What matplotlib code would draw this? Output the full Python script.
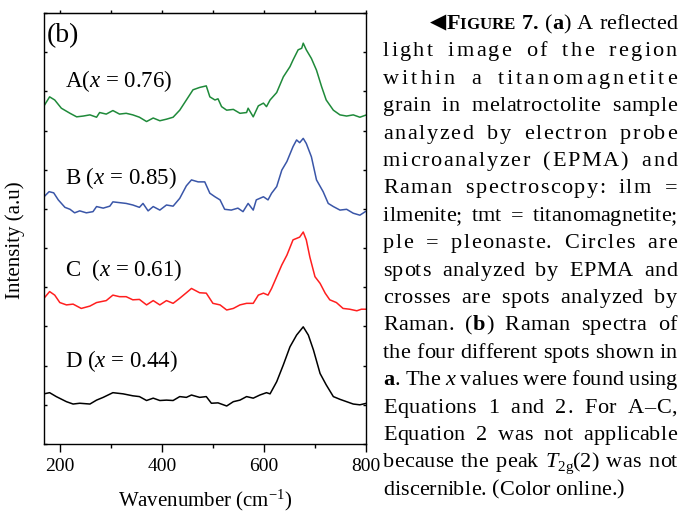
import numpy as np
import matplotlib
matplotlib.use("Agg")
from matplotlib import pyplot as plt
from matplotlib.ticker import MultipleLocator, NullFormatter
from matplotlib.font_manager import FontProperties, findfont, get_font

plt.rcParams['font.family'] = ['Liberation Serif', 'DejaVu Sans']
plt.rcParams['mathtext.fontset'] = 'custom'
plt.rcParams['mathtext.rm'] = 'Liberation Serif'
plt.rcParams['mathtext.it'] = 'Liberation Serif:italic'

# Raman spectra (offset stacked, arbitrary units)
a_wn = [169,180,190,203,220,233,246,259,272,278,291,304,317,330,343,356,370,383,396,409,
        422,435,448,461,474,487,494,504,510,517,527,540,553,566,569,579,589,599,605,612,
        625,638,651,657,667,674,677,683,693,703,713,722,736,749,762,775,788,801]
a_int = [8.63,8.86,8.78,8.57,8.44,8.35,8.37,8.40,8.34,8.46,8.42,8.51,8.42,8.44,8.40,
         8.34,8.23,8.32,8.25,8.29,8.34,8.52,8.78,9.04,9.10,9.14,8.86,8.78,8.81,8.61,
         8.52,8.54,8.44,8.46,8.57,8.35,8.63,8.70,8.61,8.78,8.97,9.37,9.63,9.80,10.06,
         10.10,10.23,10.06,9.84,9.54,9.12,8.78,8.52,8.40,8.37,8.40,8.34,8.40]

b_wn = [169,179,188,197,210,220,229,239,252,265,272,285,298,304,317,330,343,356,363,373,
        383,396,409,422,435,448,458,471,484,494,504,514,523,536,549,559,569,579,585,599,
        608,615,625,635,645,657,664,670,677,683,693,703,716,726,736,749,762,775,788,801]
b_int = [6.31,6.44,6.41,6.23,6.04,5.99,5.90,5.95,5.90,5.93,6.06,6.02,6.07,6.18,6.16,
         6.14,6.10,6.04,6.14,5.95,6.06,5.97,6.10,6.07,6.27,6.59,6.74,6.69,6.69,6.40,
         6.31,6.23,5.99,5.97,6.02,5.93,6.14,5.97,6.23,6.31,6.23,6.40,6.57,6.99,7.21,
         7.59,7.76,7.69,7.80,7.67,7.33,6.74,6.44,6.14,6.06,5.97,5.99,5.89,5.84,5.95]

c_wn = [169,180,190,200,213,226,242,259,272,291,304,317,330,343,356,370,383,396,409,422,
        435,448,458,474,487,500,514,527,540,553,566,579,589,599,608,615,625,635,645,657,
        670,677,683,690,700,710,720,729,742,755,768,782,791,801]
c_int = [3.72,3.89,3.80,3.61,3.55,3.57,3.46,3.52,3.61,3.66,3.80,3.76,3.76,3.68,3.69,
         3.55,3.66,3.55,3.66,3.59,3.72,3.86,3.97,3.86,3.85,3.59,3.55,3.42,3.46,3.55,
         3.59,3.59,3.80,3.85,3.80,3.97,4.27,4.57,4.82,5.21,5.28,5.41,5.21,4.77,4.27,
         4.10,3.85,3.68,3.61,3.46,3.44,3.40,3.44,3.44]

d_wn = [169,180,193,213,226,239,259,272,285,304,324,343,356,370,383,396,409,422,435,448,
        458,474,487,497,510,527,540,553,566,579,592,605,612,625,638,651,664,677,687,697,
        710,722,736,749,762,775,788,801]
d_int = [1.28,1.31,1.21,1.08,1.02,1.04,1.02,1.12,1.19,1.31,1.28,1.23,1.21,1.11,1.17,
         1.11,1.12,1.11,1.21,1.19,1.25,1.19,1.21,1.04,1.05,0.97,1.08,1.12,1.21,1.17,
         1.25,1.31,1.28,1.59,2.02,2.48,2.78,2.99,2.78,2.40,1.80,1.51,1.21,1.14,1.08,
         1.02,1.00,1.04]

labels = ["A($x$ = 0.76)", "B ($x$ = 0.85)", "C  ($x$ = 0.61)", "D ($x$ = 0.44)"]
label_y = [9.10, 6.64, 4.29, 1.97]
colors = ["#1f8a3a", "#3a56a8", "#ff1f1f", "black"]

caption = [
    [("\u25c0", "sym"), ("F", "b"), ("IGURE", "sc"), (" 7. ", "b"), ("(", "r"), ("a", "b"), (") A reflected", "r")],
    [("light image of the region", "r")],
    [("within a titanomagnetite", "r")],
    [("grain in melatroctolite sample", "r")],
    [("analyzed by electron probe", "r")],
    [("microanalyzer (EPMA) and", "r")],
    [("Raman spectroscopy: ilm =", "r")],
    [("ilmenite; tmt = titanomagnetite;", "r")],
    [("ple = pleonaste. Circles are", "r")],
    [("spots analyzed by EPMA and", "r")],
    [("crosses are spots analyzed by", "r")],
    [("Raman. (", "r"), ("b", "b"), (") Raman spectra of", "r")],
    [("the four different spots shown in", "r")],
    [("a", "b"), (". The ", "r"), ("x", "i"), (" values were found using", "r")],
    [("Equations 1 and 2. For A\u2013C,", "r")],
    [("Equation 2 was not applicable", "r")],
    [("because the peak ", "r"), ("T", "i"), ("2g", "sub"), ("(2) was not", "r")],
    [("discernible. (Color online.)", "r")],
]

W, H = 680, 513
fig = plt.figure(figsize=(W / 100, H / 100), dpi=100)
ax = fig.add_axes([44 / W, 1 - 444 / H, 322 / W, 431 / H])

for wn, y, col in zip([a_wn, b_wn, c_wn, d_wn], [a_int, b_int, c_int, d_int], colors):
    ax.plot(wn, y, color=col, lw=1.1)

for lab, ly in zip(labels, label_y):
    ax.text(210, ly, lab, fontsize=16.5, ha='left', va='baseline')
ax.text(175, 10.26, "(b)", fontsize=20, ha='left', va='baseline')

ax.set_xlim(169, 800)
ax.set_ylim(0, 11)
ax.xaxis.set_major_locator(MultipleLocator(200))
ax.xaxis.set_minor_locator(MultipleLocator(100))
ax.yaxis.set_major_locator(MultipleLocator(1))
ax.yaxis.set_major_formatter(NullFormatter())
ax.tick_params(axis='x', which='major', direction='out', length=6, width=1, labelsize=14, pad=4)
ax.tick_params(axis='x', which='minor', direction='out', length=3, width=1)
ax.tick_params(axis='y', which='both', direction='in', length=2, width=1, left=True, right=True)
top = ax.secondary_xaxis('top')
top.set_xticks(range(200, 900, 100))
top.tick_params(direction='out', length=2, width=1, labeltop=False)
for sp in ax.spines.values():
    sp.set_linewidth(1.0)

fig.text(15 / W, 1 - 240 / H, "Intensity (a.u)", rotation=90, fontsize=15,
         ha='center', va='center')
fig.text(205 / W, 1 - 506 / H, "Wavenumber (cm$^{-1}$)", fontsize=15,
         ha='center', va='baseline')

# justified caption block, laid out glyph by glyph
CAP_PT = 16
styles = {
    "r": (FontProperties(family='Liberation Serif', size=CAP_PT), 0),
    "b": (FontProperties(family='Liberation Serif', weight='bold', size=CAP_PT), 0),
    "sc": (FontProperties(family='Liberation Serif', weight='bold', size=CAP_PT * 0.76), 0),
    "i": (FontProperties(family='Liberation Serif', style='italic', size=CAP_PT), 0),
    "sub": (FontProperties(family='Liberation Serif', size=CAP_PT * 0.68), 4),
    "sym": (FontProperties(family='DejaVu Sans', size=CAP_PT * 0.95), -0.5),
}


def advance(ch, prop):
    font = get_font(findfont(prop))
    font.set_size(prop.get_size_in_points(), fig.dpi)
    return font.load_char(ord(ch)).linearHoriAdvance / 65536


base0, step = 29, 27.4
for k, line in enumerate(caption):
    chars = [(c, sty) for txt, sty in line for c in txt]
    widths = [advance(c, styles[sty][0]) for c, sty in chars]
    left = 430 if k == 0 else 383
    extra = 677 - left - sum(widths)
    nsp = sum(c == " " for c, _ in chars)
    word_gap = letter_gap = 0
    if k < len(caption) - 1:
        word_gap = min(extra / nsp, 5.0) if nsp else 0
        letter_gap = max(extra - word_gap * nsp, 0) / (len(chars) - 1)
    x = left
    yb = base0 + step * k
    for (c, sty), w in zip(chars, widths):
        if c != " ":
            prop, rise = styles[sty]
            fig.text(x / W, 1 - (yb + rise) / H, c, fontproperties=prop,
                     ha='left', va='baseline')
        x += w + letter_gap + (word_gap if c == " " else 0)

fig.savefig("out.png", dpi=100)
